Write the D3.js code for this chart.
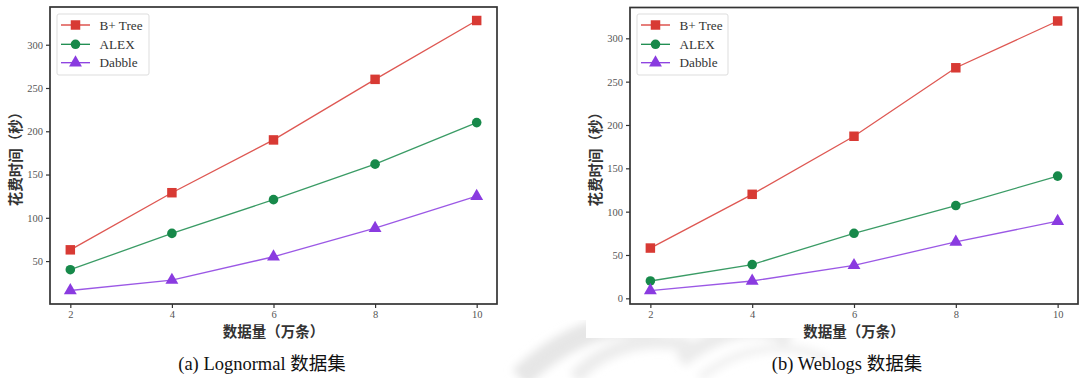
<!DOCTYPE html>
<html>
<head>
<meta charset="utf-8">
<script src="https://cdn.jsdelivr.net/npm/d3@7"></script>
<style>
html,body{margin:0;padding:0;background:#fff;}
svg{display:block;}
</style>
</head>
<body>
<svg id="chart" width="1079" height="378"></svg>
<script>
// ---- data ----
const xValues = [2, 4, 6, 8, 10];
const xTickLabels = ["2", "4", "6", "8", "10"];
const seriesNames = ["B+ Tree", "ALEX", "Dabble"];

const lognormalBTree = [63, 129, 190, 260, 328];
const lognormalALEX = [40, 82, 121, 162, 210];
const lognormalDabble = [16, 28, 55, 88, 125];

const weblogsBTree = [58, 120, 187, 266, 320];
const weblogsALEX = [20, 39, 75, 107, 141];
const weblogsDabble = [9, 20, 38, 65, 89];

const lognormalYTicks = [50, 100, 150, 200, 250, 300];
const weblogsYTicks = [0, 50, 100, 150, 200, 250, 300];

const xTitle = "数据量（万条）";
const yTitle = "花费时间（秒）";
const captionA = "(a) Lognormal 数据集";
const captionB = "(b) Weblogs 数据集";

// ---- styling ----
const colors = ["#d83a34", "#17894a", "#8a3be0"];
const markers = [d3.symbolSquare, d3.symbolCircle, d3.symbolTriangle];
const markerSizes = [90, 72, 72];
const serif = "'Liberation Serif','Times New Roman',serif";
const cjkSans = "'Noto Sans CJK SC','Noto Sans',sans-serif";

const svg = d3.select("#chart");

// ---- faint watermark ----
const defs = svg.append("defs");
defs.append("filter").attr("id", "blur").append("feGaussianBlur").attr("stdDeviation", 4);
const wm = svg.append("g").attr("filter", "url(#blur)").attr("fill", "none").attr("stroke", "#e6e6e6");
wm.append("path").attr("d", "M520,378 C560,340 610,315 660,330").attr("stroke-width", 22);
wm.append("path").attr("d", "M575,378 C600,350 640,335 690,345").attr("stroke-width", 14).attr("stroke", "#ececec");
wm.append("path").attr("d", "M680,360 C720,330 760,320 790,340").attr("stroke-width", 16).attr("stroke", "#ebebeb");
wm.append("path").attr("d", "M700,378 C740,345 790,340 830,360").attr("stroke-width", 8).attr("stroke", "#f0f0f0");
// white backing for right figure
svg.append("rect").attr("x", 586).attr("y", 0).attr("width", 493).attr("height", 338).attr("fill", "#fff");

function drawPanel(cfg) {
  const g = svg.append("g");
  const all = cfg.series.flat();
  const mn = d3.min(all), mx = d3.max(all), pad = (mx - mn) * 0.05;
  const x = d3.scaleLinear().domain([1.6, 10.4]).range([cfg.left, cfg.right]);
  const y = d3.scaleLinear().domain([mn - pad, mx + pad]).range([cfg.bottom, cfg.top]);

  // y axis
  const yAxis = d3.axisLeft(y).tickValues(cfg.yTicks).tickSize(4).tickPadding(3).tickFormat(d => String(d));
  const ya = g.append("g").attr("transform", `translate(${cfg.left},0)`).call(yAxis);
  ya.select(".domain").remove();
  ya.selectAll("line").attr("stroke", "#333").attr("stroke-width", 1.2);
  ya.selectAll("text").attr("font-family", serif).attr("font-size", 10.5).attr("fill", "#555");

  // x axis
  const xAxis = d3.axisBottom(x).tickValues(xValues).tickSize(4).tickPadding(3)
    .tickFormat((d, i) => xTickLabels[i]);
  const xa = g.append("g").attr("transform", `translate(0,${cfg.bottom})`).call(xAxis);
  xa.select(".domain").remove();
  xa.selectAll("line").attr("stroke", "#333").attr("stroke-width", 1.2);
  xa.selectAll("text").attr("font-family", serif).attr("font-size", 10.5).attr("fill", "#555");

  // frame
  g.append("rect").attr("x", cfg.left).attr("y", cfg.top)
    .attr("width", cfg.right - cfg.left).attr("height", cfg.bottom - cfg.top)
    .attr("fill", "none").attr("stroke", "#333").attr("stroke-width", 1.7);

  // series
  const line = d3.line().x((d, i) => x(xValues[i])).y(d => y(d));
  cfg.series.forEach((vals, si) => {
    g.append("path").datum(vals).attr("d", line)
      .attr("fill", "none").attr("stroke", colors[si]).attr("stroke-width", 1.3).attr("opacity", 0.85);
    g.selectAll(null).data(vals).enter().append("path")
      .attr("transform", (d, i) => `translate(${x(xValues[i])},${y(d)})`)
      .attr("d", d3.symbol().type(markers[si]).size(markerSizes[si]))
      .attr("fill", colors[si]);
  });

  // legend
  const lg = g.append("g");
  lg.append("rect").attr("x", cfg.legX).attr("y", 14).attr("width", cfg.legW).attr("height", 61)
    .attr("rx", 2).attr("fill", "#fff").attr("fill-opacity", 0.85).attr("stroke", "#ddd").attr("stroke-width", 1);
  const rows = [25, 44.3, 62.7];
  seriesNames.forEach((name, si) => {
    const ry = rows[si];
    lg.append("line").attr("x1", cfg.legX + 4).attr("x2", cfg.legX + 33).attr("y1", ry).attr("y2", ry)
      .attr("stroke", colors[si]).attr("stroke-width", 1.3);
    lg.append("path").attr("transform", `translate(${cfg.legX + 18.5},${ry})`)
      .attr("d", d3.symbol().type(markers[si]).size(markerSizes[si])).attr("fill", colors[si]);
    lg.append("text").attr("x", cfg.legX + 42.5).attr("y", ry).attr("dy", "0.35em")
      .attr("font-family", serif).attr("font-size", 13.2).attr("fill", "#333").text(name);
  });

  // axis titles
  g.append("text").attr("x", (cfg.left + cfg.right) / 2).attr("y", 332).attr("dy", "0.35em")
    .attr("text-anchor", "middle").attr("font-family", cjkSans).attr("font-weight", 700)
    .attr("font-size", 14.5).attr("fill", "#333").text(xTitle);
  g.append("text").attr("transform", `translate(${cfg.yTitleX},${(cfg.top + cfg.bottom) / 2}) rotate(-90)`)
    .attr("dy", "0.35em").attr("text-anchor", "middle").attr("font-family", cjkSans).attr("font-weight", 700)
    .attr("font-size", 14.5).attr("fill", "#333").text(yTitle);

  // caption
  g.append("text").attr("x", cfg.capX).attr("y", 364).attr("dy", "0.35em")
    .attr("text-anchor", "middle").attr("font-family", serif + ",'Noto Sans CJK SC'")
    .attr("font-size", 18.5).attr("fill", "#111").text(cfg.caption);
}

drawPanel({
  left: 50, right: 497, top: 7, bottom: 304,
  series: [lognormalBTree, lognormalALEX, lognormalDabble],
  yTicks: lognormalYTicks, legX: 57, legW: 92, yTitleX: 16, capX: 262, caption: captionA
});
drawPanel({
  left: 630, right: 1078, top: 7.5, bottom: 304,
  series: [weblogsBTree, weblogsALEX, weblogsDabble],
  yTicks: weblogsYTicks, legX: 637, legW: 91, yTitleX: 596, capX: 847, caption: captionB
});
</script>
</body>
</html>
